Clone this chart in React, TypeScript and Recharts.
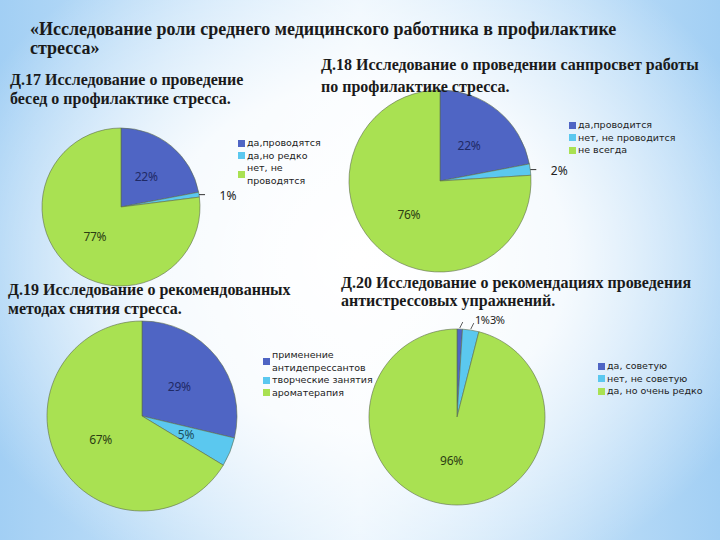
import { PieChart, Pie, Cell, Legend } from 'recharts'

// Д.17
const d17Names = ['да,проводятся', 'да,но редко', 'нет, не проводятся']
const d17Values = [22, 1, 77]
// Д.18
const d18Names = ['да,проводится', 'нет, не проводится', 'не всегда']
const d18Values = [22, 2, 76]
// Д.19
const d19Names = ['применение антидепрессантов', 'творческие занятия', 'ароматерапия']
const d19Values = [29, 5, 67]
// Д.20
const d20Names = ['да, советую', 'нет, не советую', 'да, но очень редко']
const d20Values = [1, 3, 96]

const COLORS = ['#4f65c4', '#5bc8ef', '#a9e152']
const LABEL_COLORS = ['#1f2a66', '#1d4f5e', '#2c3d12']
const RAD = Math.PI / 180

const makeLabel = (mode: 'right' | 'up') => (props: any) => {
  const { cx, cy, midAngle, outerRadius, value, index } = props
  const cos = Math.cos(-midAngle * RAD)
  const sin = Math.sin(-midAngle * RAD)
  if (value < 4) {
    const ex = cx + outerRadius * cos
    const ey = cy + outerRadius * sin
    if (mode === 'right') {
      return (
        <g>
          <line x1={ex} y1={ey} x2={ex + 6} y2={ey} stroke="#333" strokeWidth={1} />
          <text x={ex + 29} y={ey + 1} textAnchor="middle" dominantBaseline="central"
            fontSize={12} fontFamily="Noto Sans" fill="#222">{value}%</text>
        </g>
      )
    }
    return (
      <g>
        <line x1={ex} y1={ey - 1} x2={ex + 3} y2={ey - 7} stroke="#333" strokeWidth={0.8} />
        <text x={cx + 18 + index * 15} y={cy - outerRadius - 10} textAnchor="start" dominantBaseline="central"
          fontSize={11} fontFamily="Noto Sans" letterSpacing={-0.6} fill="#222">{value}%</text>
      </g>
    )
  }
  const r = outerRadius * 0.5
  return (
    <text x={cx + r * cos} y={cy + r * sin} textAnchor="middle" dominantBaseline="central"
      fontSize={12} fontFamily="Noto Sans" fill={LABEL_COLORS[index]} letterSpacing={-0.3}>
      {value}%
    </text>
  )
}

const makeLegend = (names: string[], textWidth: number) => (props: any) => {
  const items = [...(props.payload || [])].sort(
    (a: any, b: any) => names.indexOf(a.value) - names.indexOf(b.value)
  )
  return (
    <div style={{ fontFamily: 'DejaVu Sans', fontSize: 9.5, lineHeight: '12.5px', color: '#222' }}>
      {items.map((it: any, i: number) => (
        <div key={i} style={{ display: 'flex', alignItems: 'center' }}>
          <span style={{ width: 7, height: 7, background: it.color, marginRight: 2, flex: 'none' }} />
          <span style={{ width: textWidth }}>{it.value}</span>
        </div>
      ))}
    </div>
  )
}

interface BlockProps {
  names: string[]
  values: number[]
  cx: number
  cy: number
  r: number
  lx: number
  ly: number
  lw: number
  mode: 'right' | 'up'
}

function PieBlock({ names, values, cx, cy, r, lx, ly, lw, mode }: BlockProps) {
  const data = names.map((name, i) => ({ name, value: values[i] }))
  return (
    <div style={{ position: 'absolute', left: 0, top: 0 }}>
      <PieChart width={720} height={540} margin={{ top: 0, right: 0, bottom: 0, left: 0 }}>
        <Pie
          data={data}
          dataKey="value"
          nameKey="name"
          cx={cx}
          cy={cy}
          outerRadius={r}
          startAngle={90}
          endAngle={-270}
          stroke="#5d6b4c"
          strokeWidth={0.6}
          label={makeLabel(mode)}
          labelLine={false}
          isAnimationActive={false}
        >
          {data.map((_, i) => <Cell key={i} fill={COLORS[i]} />)}
        </Pie>
        <Legend
          layout="vertical"
          align="right"
          verticalAlign="top"
          content={makeLegend(names, lw)}
          wrapperStyle={{ left: lx, top: ly, right: 'auto', bottom: 'auto', width: lw + 12 }}
        />
      </PieChart>
    </div>
  )
}

const titleStyle: React.CSSProperties = {
  position: 'absolute',
  fontFamily: 'Liberation Serif',
  fontWeight: 'bold',
  fontSize: 16,
  color: '#1a1a1a',
  whiteSpace: 'nowrap',
}

export default function App() {
  return (
    <div style={{
      position: 'absolute', left: 0, top: 0, width: 720, height: 540, overflow: 'hidden',
      background: 'radial-gradient(ellipse 60% 66% at 50% 48%, rgba(255,255,255,1) 0%, rgba(255,255,255,0.85) 48%, rgba(255,255,255,0) 100%), linear-gradient(90deg, #a2cff4 0%, #e6f3fd 50%, #a2cff4 100%)',
    }}>
      <PieBlock names={d17Names} values={d17Values} cx={121} cy={207} r={79} lx={238} ly={137} lw={80} mode="right" />
      <PieBlock names={d18Names} values={d18Values} cx={440} cy={181} r={91} lx={569} ly={119} lw={120} mode="right" />
      <PieBlock names={d19Names} values={d19Values} cx={142} cy={416} r={95} lx={263} ly={349} lw={112} mode="right" />
      <PieBlock names={d20Names} values={d20Values} cx={457} cy={417} r={88} lx={598} ly={360} lw={110} mode="up" />

      <div style={{ ...titleStyle, left: 30, top: 19.5, fontSize: 18, lineHeight: '19px' }}>
        «Исследование роли среднего медицинского работника в профилактике<br />стресса»
      </div>
      <div style={{ ...titleStyle, left: 10, top: 69.5, lineHeight: '19px' }}>
        Д.17 Исследование о проведение<br />бесед о профилактике стресса.
      </div>
      <div style={{ ...titleStyle, left: 321, top: 54, lineHeight: '22px' }}>
        Д.18 Исследование о проведении санпросвет работы<br />по профилактике стресса.
      </div>
      <div style={{ ...titleStyle, left: 8, top: 279.5, lineHeight: '19px' }}>
        Д.19 Исследование о рекомендованных<br />методах снятия стресса.
      </div>
      <div style={{ ...titleStyle, left: 341, top: 273.5, lineHeight: '18px' }}>
        Д.20 Исследование о рекомендациях проведения<br />антистрессовых упражнений.
      </div>
    </div>
  )
}
